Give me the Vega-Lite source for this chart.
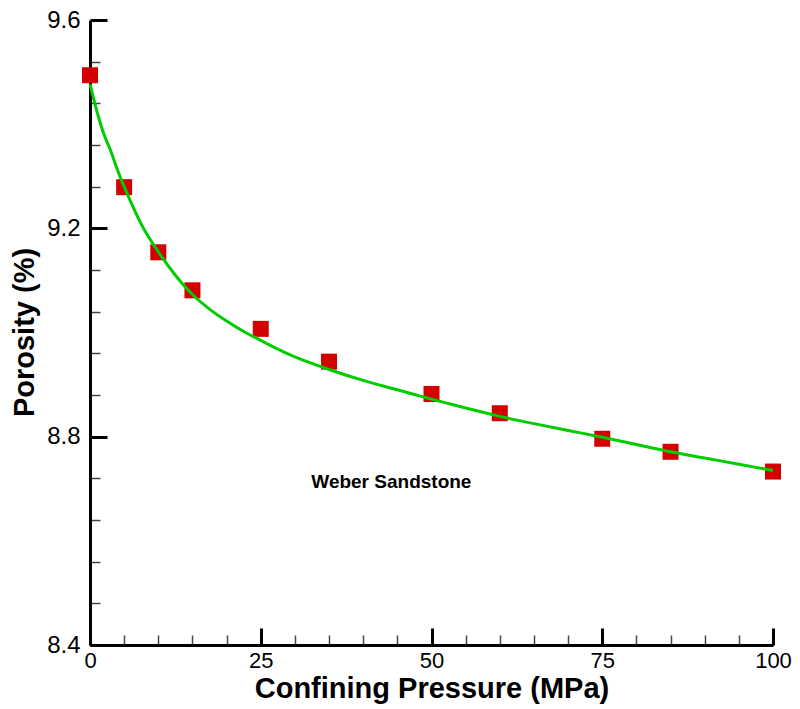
{
  "$schema": "https://vega.github.io/schema/vega-lite/v6.json",
  "width": 683,
  "height": 625,
  "autosize": "none",
  "padding": {"left": 90, "top": 20, "right": 27, "bottom": 64},
  "config": {"view": {"stroke": null}, "font": "Liberation Sans"},
  "datasets": {
    "points": [
      {"pressure": 0, "porosity": 9.494},
      {"pressure": 5, "porosity": 9.279},
      {"pressure": 10, "porosity": 9.154},
      {"pressure": 15, "porosity": 9.081},
      {"pressure": 25, "porosity": 9.007},
      {"pressure": 35, "porosity": 8.944},
      {"pressure": 50, "porosity": 8.882},
      {"pressure": 60, "porosity": 8.845},
      {"pressure": 75, "porosity": 8.796},
      {"pressure": 85, "porosity": 8.771},
      {"pressure": 100, "porosity": 8.733}
    ],
    "curve": [
      {"pressure": 0, "porosity": 9.477},
      {"pressure": 0.7, "porosity": 9.44},
      {"pressure": 2, "porosity": 9.382},
      {"pressure": 3, "porosity": 9.35},
      {"pressure": 4, "porosity": 9.313},
      {"pressure": 5, "porosity": 9.28},
      {"pressure": 6, "porosity": 9.25},
      {"pressure": 7.5, "porosity": 9.208},
      {"pressure": 10, "porosity": 9.155},
      {"pressure": 12.5, "porosity": 9.11},
      {"pressure": 15, "porosity": 9.073},
      {"pressure": 17.5, "porosity": 9.045},
      {"pressure": 20, "porosity": 9.022},
      {"pressure": 22.5, "porosity": 9.002},
      {"pressure": 25, "porosity": 8.985},
      {"pressure": 27.5, "porosity": 8.968},
      {"pressure": 30, "porosity": 8.953},
      {"pressure": 35, "porosity": 8.929},
      {"pressure": 40, "porosity": 8.908},
      {"pressure": 45, "porosity": 8.89},
      {"pressure": 50, "porosity": 8.872},
      {"pressure": 55, "porosity": 8.855},
      {"pressure": 60, "porosity": 8.839},
      {"pressure": 65, "porosity": 8.825},
      {"pressure": 70, "porosity": 8.812},
      {"pressure": 75, "porosity": 8.799},
      {"pressure": 80, "porosity": 8.785},
      {"pressure": 85, "porosity": 8.771},
      {"pressure": 90, "porosity": 8.759},
      {"pressure": 95, "porosity": 8.747},
      {"pressure": 100, "porosity": 8.735}
    ],
    "label": [
      {"pressure": 32.4, "porosity": 8.701, "text": "Weber Sandstone"}
    ]
  },
  "layer": [
    {
      "data": {"name": "points"},
      "mark": {"type": "square", "size": 256, "color": "#d40000", "opacity": 1, "filled": true},
      "encoding": {
        "x": {
          "field": "pressure", "type": "quantitative",
          "scale": {"domain": [0, 100], "nice": false, "zero": false},
          "axis": {
            "orient": "bottom", "values": [5, 10, 15, 20, 30, 35, 40, 45, 55, 60, 65, 70, 80, 85, 90, 95],
            "tickSize": -10, "tickWidth": 1.5, "tickColor": "#444444",
            "labels": false, "domain": false, "grid": false, "title": null
          }
        },
        "y": {
          "field": "porosity", "type": "quantitative",
          "scale": {"domain": [8.4, 9.6], "nice": false, "zero": false},
          "axis": {
            "orient": "left", "values": [8.48, 8.56, 8.64, 8.72, 8.88, 8.96, 9.04, 9.12, 9.28, 9.36, 9.44, 9.52],
            "tickSize": -10, "tickWidth": 1.5, "tickColor": "#444444",
            "labels": false, "domain": false, "grid": false, "title": null
          }
        }
      }
    },
    {
      "data": {"name": "curve"},
      "mark": {"type": "line", "color": "#00cc00", "strokeWidth": 3, "interpolate": "monotone"},
      "encoding": {
        "x": {
          "field": "pressure", "type": "quantitative",
          "scale": {"domain": [0, 100], "nice": false, "zero": false},
          "axis": {
            "orient": "bottom", "values": [0, 25, 50, 75, 100],
            "tickSize": -17, "tickWidth": 3, "tickColor": "black",
            "domainWidth": 3, "domainColor": "black", "grid": false,
            "labelFontSize": 22, "labelColor": "black", "labelPadding": 22,
            "labelFlush": false, "labelOverlap": false,
            "title": "Confining Pressure (MPa)", "titleFontSize": 29, "titleFontWeight": "bold",
            "titleColor": "black", "titleY": 52, "titleBaseline": "alphabetic"
          }
        },
        "y": {
          "field": "porosity", "type": "quantitative",
          "scale": {"domain": [8.4, 9.6], "nice": false, "zero": false},
          "axis": {
            "orient": "left", "values": [8.4, 8.8, 9.2, 9.6], "format": ".1f",
            "tickSize": -17, "tickWidth": 3, "tickColor": "black",
            "domainWidth": 3, "domainColor": "black", "grid": false,
            "labelFontSize": 24, "labelColor": "black", "labelPadding": 27,
            "labelFlush": false, "labelOverlap": false,
            "title": "Porosity (%)", "titleFontSize": 29, "titleFontWeight": "bold",
            "titleColor": "black", "titleX": -57, "titleY": 312, "titleAngle": -90,
            "titleAlign": "center", "titleBaseline": "alphabetic"
          }
        }
      }
    },
    {
      "data": {"name": "label"},
      "mark": {"type": "text", "fontWeight": "bold", "fontSize": 19, "align": "left", "baseline": "alphabetic", "color": "black"},
      "encoding": {
        "x": {"field": "pressure", "type": "quantitative", "scale": {"domain": [0, 100], "nice": false, "zero": false}, "axis": null},
        "y": {"field": "porosity", "type": "quantitative", "scale": {"domain": [8.4, 9.6], "nice": false, "zero": false}, "axis": null},
        "text": {"field": "text"}
      }
    }
  ],
  "resolve": {"axis": {"x": "independent", "y": "independent"}}
}
